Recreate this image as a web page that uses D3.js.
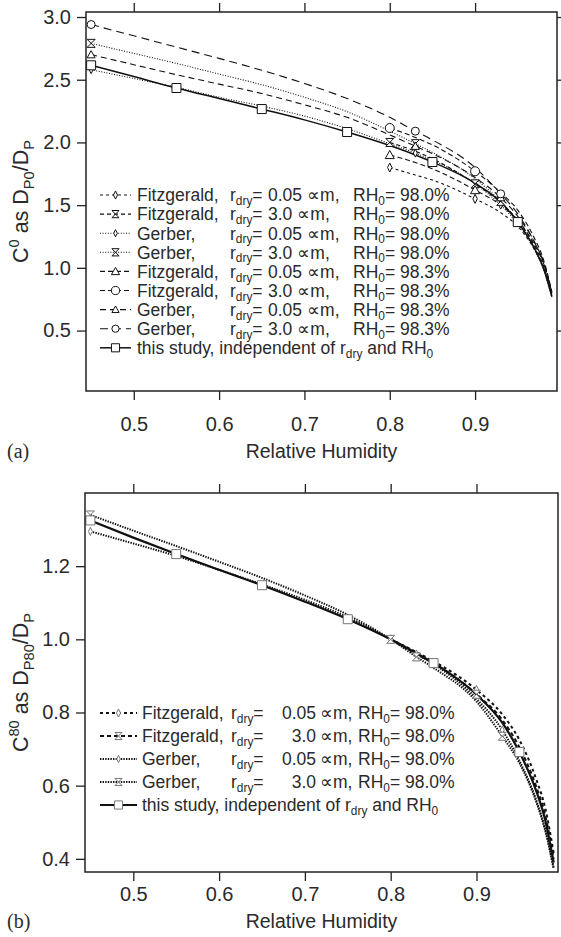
<html>
<head>
<style>
  body { margin: 0; background: #fff; }
  text { font-family: "Liberation Sans", Arial, sans-serif; fill: #2a2a2a; }
  .serif { font-family: "Liberation Serif", "Times New Roman", serif; }
</style>
</head>
<body>
<svg id="chart" width="561" height="937"></svg>
<script src="https://cdn.jsdelivr.net/npm/d3@7"></script>
<script>
// relative humidity grids
const rhFull = [0.45, 0.5, 0.55, 0.6, 0.65, 0.7, 0.75, 0.8, 0.83, 0.85, 0.9, 0.93, 0.95, 0.97, 0.98, 0.99]
const rhFitz = [0.8, 0.83, 0.85, 0.9, 0.93, 0.95, 0.97, 0.98, 0.99]

// marker positions
const gerberMarkRH = [0.45, 0.83, 0.93]
const fitzMarkRH = [0.8, 0.9]
const studyMarkRH = [0.45, 0.55, 0.65, 0.75, 0.85, 0.95]

// panel (a): C0 = D_P0 / D_P
const studyA = [2.615, 2.525, 2.434, 2.35, 2.266, 2.18, 2.083, 1.975, 1.90, 1.844, 1.675, 1.525, 1.365, 1.15, 1.0, 0.77]
const gerb005_980A = [2.58, 2.51, 2.44, 2.36, 2.29, 2.21, 2.11, 1.99, 1.915, 1.86, 1.67, 1.50, 1.35, 1.14, 0.99, 0.76]
const gerb30_980A = [2.79, 2.71, 2.63, 2.545, 2.46, 2.36, 2.245, 2.09, 1.99, 1.92, 1.71, 1.53, 1.37, 1.15, 1.0, 0.77]
const gerb005_983A = [2.70, 2.62, 2.54, 2.465, 2.39, 2.30, 2.20, 2.06, 1.97, 1.91, 1.72, 1.56, 1.41, 1.20, 1.05, 0.80]
const gerb30_983A = [2.94, 2.85, 2.76, 2.67, 2.575, 2.47, 2.35, 2.20, 2.09, 2.02, 1.80, 1.59, 1.43, 1.20, 1.05, 0.80]
const fitz005_980A = [1.80, 1.74, 1.70, 1.55, 1.44, 1.33, 1.14, 1.0, 0.78]
const fitz30_980A = [2.0, 1.93, 1.87, 1.67, 1.52, 1.38, 1.17, 1.02, 0.78]
const fitz005_983A = [1.90, 1.84, 1.79, 1.62, 1.50, 1.38, 1.18, 1.04, 0.80]
const fitz30_983A = [2.115, 2.04, 1.98, 1.77, 1.60, 1.46, 1.23, 1.07, 0.81]

// panel (b): C80 = D_P80 / D_P
const studyB = [1.325, 1.278, 1.233, 1.19, 1.148, 1.103, 1.055, 1.0, 0.962, 0.935, 0.849, 0.772, 0.692, 0.583, 0.507, 0.39]
const gerb005B = [1.295, 1.262, 1.228, 1.19, 1.15, 1.108, 1.06, 1.0, 0.96, 0.932, 0.838, 0.752, 0.668, 0.558, 0.482, 0.375]
const gerb30B = [1.34, 1.297, 1.255, 1.212, 1.168, 1.12, 1.067, 1.0, 0.952, 0.922, 0.83, 0.735, 0.662, 0.553, 0.478, 0.372]
const fitz005B = [1.0, 0.965, 0.94, 0.862, 0.795, 0.725, 0.615, 0.54, 0.415]
const fitz30B = [1.0, 0.96, 0.935, 0.85, 0.78, 0.705, 0.595, 0.52, 0.40]

// ticks
const xTicks = [0.5, 0.6, 0.7, 0.8, 0.9]
const yTicksA = [0.5, 1.0, 1.5, 2.0, 2.5, 3.0]
const yTicksB = [0.4, 0.6, 0.8, 1.0, 1.2]

const svg = d3.select("#chart")
const LF = 17.5  // legend font size

function rich(g, x, y, parts, size, anchor, subShift) {
    let t = g.append("text").attr("x", x).attr("y", y)
        .attr("font-size", size).attr("text-anchor", anchor || "start")
    let shift = 0
    parts.forEach(p => {
        let k = p[1] || "n"
        let target = k == "sub" ? size * (subShift || 0.28) : k == "sup" ? -size * 0.42 : 0
        let ts = t.append("tspan").attr("dy", target - shift).text(p[0])
        if (k != "n") ts.attr("font-size", size * 0.68)
        shift = target
    })
    return t
}

function marker(g, type, x, y, s, color, sw) {
    let p
    if (type == "circle") {
        g.append("circle").attr("cx", x).attr("cy", y).attr("r", s * 0.5)
            .attr("fill", "#fff").attr("stroke", color).attr("stroke-width", sw)
        return
    }
    let h = s / 2
    if (type == "square") p = `M${x-h},${y-h}h${s}v${s}h${-s}Z`
    if (type == "triangle") p = `M${x},${y-h}L${x+h},${y+h*0.8}L${x-h},${y+h*0.8}Z`
    if (type == "diamond") p = `M${x},${y-h}L${x+h*0.5},${y}L${x},${y+h}L${x-h*0.5},${y}Z`
    if (type == "hourglass") p = `M${x-h},${y-h}L${x+h},${y-h}L${x-h},${y+h}L${x+h},${y+h}Z`
    g.append("path").attr("d", p).attr("fill", "#fff")
        .attr("stroke", color).attr("stroke-width", sw)
}

function drawPanel(cfg) {
    let g = svg.append("g")
    let x = d3.scaleLinear().domain(cfg.xDom).range([cfg.left, cfg.right])
    let y = d3.scaleLinear().domain(cfg.yDom).range([cfg.bottom, cfg.top])

    let fmt = d3.format(".1f")
    let ax = g.append("g").attr("transform", `translate(0,${cfg.bottom})`)
        .call(d3.axisBottom(x).tickValues(xTicks).tickFormat(fmt).tickSize(9).tickPadding(cfg.xPad))
    let at = g.append("g").attr("transform", `translate(0,${cfg.top})`)
        .call(d3.axisTop(x).tickValues(xTicks).tickFormat("").tickSize(9))
    let ay = g.append("g").attr("transform", `translate(${cfg.left},0)`)
        .call(d3.axisLeft(y).tickValues(cfg.yTicks).tickFormat(fmt).tickSize(9).tickPadding(6))
    let axes = [ax, at, ay]
    if (cfg.rightTicks) {
        axes.push(g.append("g").attr("transform", `translate(${cfg.right},0)`)
            .call(d3.axisRight(y).tickValues(cfg.yTicks).tickFormat("").tickSize(6)))
    }
    axes.forEach(a => {
        a.select(".domain").remove()
        a.selectAll("line").attr("stroke", "#222").attr("stroke-width", 1.3)
        a.selectAll("text").attr("font-size", 20).attr("fill", "#2a2a2a")
            .attr("font-family", "Liberation Sans, Arial, sans-serif")
    })

    let line = d3.line().x(d => x(d[0])).y(d => y(d[1])).curve(d3.curveMonotoneX)
    let plot = g.append("g")
    cfg.series.forEach(s => {
        let pts = s.rh.map((r, i) => [r, s.vals[i]])
        plot.append("path").attr("d", line(pts)).attr("fill", "none")
            .attr("stroke", "#111").attr("stroke-width", s.width)
            .attr("stroke-dasharray", s.dash)
    })
    cfg.series.forEach(s => {
        s.rh.forEach((r, i) => {
            if (s.marks.some(m => Math.abs(m - r) < 1e-6))
                marker(plot, s.mark, x(r), y(s.vals[i]), s.size, cfg.markColor, 1)
        })
    })

    g.append("rect").attr("x", cfg.left).attr("y", cfg.top)
        .attr("width", cfg.right - cfg.left).attr("height", cfg.bottom - cfg.top)
        .attr("fill", "none").attr("stroke", "#222").attr("stroke-width", 1.5)

    // legend
    let lg = g.append("g")
    cfg.series.forEach((s, i) => {
        let cy = cfg.legY + i * cfg.legStep
        lg.append("line").attr("x1", cfg.legX0).attr("x2", cfg.legX1)
            .attr("y1", cy).attr("y2", cy).attr("stroke", "#111")
            .attr("stroke-width", s.width).attr("stroke-dasharray", s.dash)
        marker(lg, s.mark, (cfg.legX0 + cfg.legX1) / 2, cy, s.size * 0.9, cfg.markColor, 1)
        let by = cy + 6.3
        if (s.name == "this study") {
            rich(lg, cfg.nameX, by, [["this study, independent of r"], ["dry", "sub"], [" and RH"], ["0", "sub"]], LF, "start", 0.22)
            return
        }
        lg.append("text").attr("x", cfg.nameX).attr("y", by).attr("font-size", LF).text(s.name + ",")
        rich(lg, cfg.rX, by, [["r"], ["dry", "sub"], ["="]], LF, "start", 0.22)
        let v = lg.append("text").attr("x", cfg.valX).attr("y", by).attr("font-size", LF)
            .attr("text-anchor", cfg.valAnchor).text(s.r)
        let mx = cfg.valAnchor == "end" ? cfg.valX + 4 : cfg.valX + v.node().getComputedTextLength() + 5
        lg.append("text").attr("x", mx).attr("y", by).attr("font-size", LF).text("\u221dm,")
        rich(lg, cfg.rhX, by, [["RH"], ["0", "sub"], ["= " + s.rh0]], LF, "start", 0.22)
    })

    // axis titles
    svg.append("text").attr("x", (cfg.left + cfg.right) / 2).attr("y", cfg.titleY)
        .attr("text-anchor", "middle").attr("font-size", 19.5).text("Relative Humidity")
    let yt = rich(svg, 0, 0, cfg.yTitle, 21.5, "middle")
    yt.attr("transform", `translate(28,${(cfg.top + cfg.bottom) / 2}) rotate(-90)`)
    svg.append("text").attr("class", "serif").attr("x", 7).attr("y", cfg.titleY)
        .attr("font-size", 20).text(cfg.tag)
}

const thinDot = "1,1.6", thickDot = "1.4,1.2"

drawPanel({
    left: 86, right: 557, top: 12, bottom: 391,
    xDom: [0.444, 0.996], yDom: [0.018, 3.04], yTicks: yTicksA,
    xPad: 17, rightTicks: true, titleY: 458, tag: "(a)", markColor: "#111",
    legX0: 100, legX1: 131, legY: 195, legStep: 19.1,
    nameX: 137, rX: 230, valX: 268, valAnchor: "start", rhX: 353,
    yTitle: [["C"], ["0", "sup"], [" as D"], ["P0", "sub"], ["/D"], ["P", "sub"]],
    series: [
        { name: "Fitzgerald", r: "0.05", rh0: "98.0%", rh: rhFitz, vals: fitz005_980A, dash: "3,3", width: 1.1, mark: "diamond", size: 9, marks: fitzMarkRH },
        { name: "Fitzgerald", r: "3.0", rh0: "98.0%", rh: rhFitz, vals: fitz30_980A, dash: "4,3", width: 1.1, mark: "hourglass", size: 8, marks: fitzMarkRH },
        { name: "Gerber", r: "0.05", rh0: "98.0%", rh: rhFull, vals: gerb005_980A, dash: thinDot, width: 1.1, mark: "diamond", size: 8, marks: gerberMarkRH },
        { name: "Gerber", r: "3.0", rh0: "98.0%", rh: rhFull, vals: gerb30_980A, dash: thinDot, width: 1.1, mark: "hourglass", size: 8, marks: gerberMarkRH },
        { name: "Fitzgerald", r: "0.05", rh0: "98.3%", rh: rhFitz, vals: fitz005_983A, dash: "5,3", width: 1.1, mark: "triangle", size: 9, marks: fitzMarkRH },
        { name: "Fitzgerald", r: "3.0", rh0: "98.3%", rh: rhFitz, vals: fitz30_983A, dash: "5,3", width: 1.1, mark: "circle", size: 9, marks: fitzMarkRH },
        { name: "Gerber", r: "0.05", rh0: "98.3%", rh: rhFull, vals: gerb005_983A, dash: "6,4", width: 1.1, mark: "triangle", size: 8, marks: gerberMarkRH },
        { name: "Gerber", r: "3.0", rh0: "98.3%", rh: rhFull, vals: gerb30_983A, dash: "8,5", width: 1.1, mark: "circle", size: 8, marks: gerberMarkRH },
        { name: "this study", rh: rhFull, vals: studyA, dash: null, width: 1.5, mark: "square", size: 9, marks: studyMarkRH }
    ]
})

drawPanel({
    left: 85, right: 558, top: 493, bottom: 872,
    xDom: [0.4437, 0.995], yDom: [0.364, 1.4], yTicks: yTicksB,
    xPad: 6, rightTicks: false, titleY: 928, tag: "(b)", markColor: "#777",
    legX0: 100, legX1: 137, legY: 713, legStep: 23,
    nameX: 142, rX: 231, valX: 316, valAnchor: "end", rhX: 358,
    yTitle: [["C"], ["80", "sup"], [" as D"], ["P80", "sub"], ["/D"], ["P", "sub"]],
    series: [
        { name: "Fitzgerald", r: "0.05", rh0: "98.0%", rh: rhFitz, vals: fitz005B, dash: "3,3", width: 2, mark: "diamond", size: 9, marks: fitzMarkRH },
        { name: "Fitzgerald", r: "3.0", rh0: "98.0%", rh: rhFitz, vals: fitz30B, dash: "4,3", width: 2, mark: "hourglass", size: 8, marks: fitzMarkRH },
        { name: "Gerber", r: "0.05", rh0: "98.0%", rh: rhFull, vals: gerb005B, dash: thickDot, width: 2, mark: "diamond", size: 8, marks: gerberMarkRH },
        { name: "Gerber", r: "3.0", rh0: "98.0%", rh: rhFull, vals: gerb30B, dash: thickDot, width: 2, mark: "hourglass", size: 8, marks: gerberMarkRH },
        { name: "this study", rh: rhFull, vals: studyB, dash: null, width: 2.2, mark: "square", size: 9, marks: studyMarkRH }
    ]
})
</script>
</body>
</html>
